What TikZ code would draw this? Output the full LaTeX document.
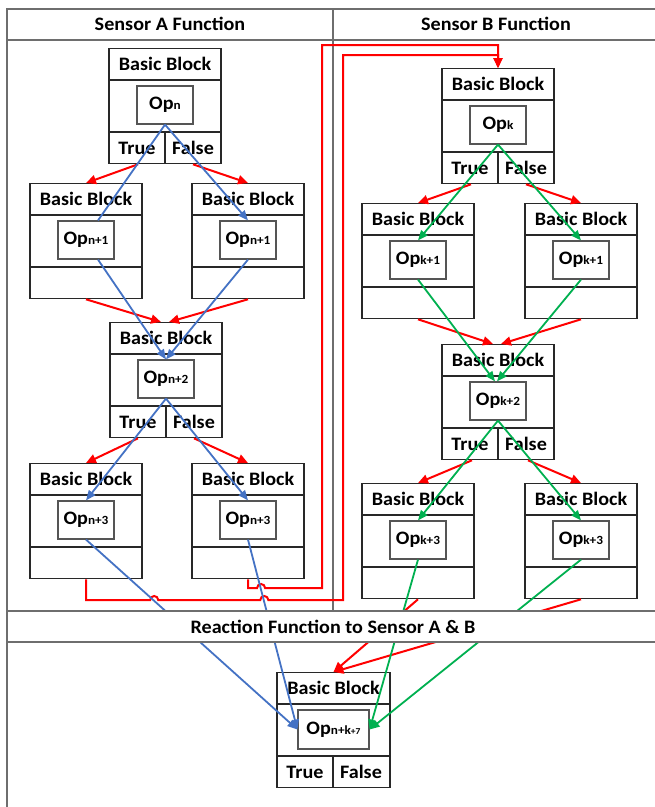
\documentclass[tikz,border=0pt]{standalone}
\usepackage{fontspec}
\setmainfont{Carlito}[FakeStretch=1.06]
\usetikzlibrary{arrows.meta}
\definecolor{redc}{RGB}{255,0,0}
\definecolor{bluec}{RGB}{68,114,196}
\definecolor{greenc}{RGB}{0,176,80}
\definecolor{framec}{RGB}{110,110,110}
\definecolor{boxc}{RGB}{40,40,40}
\definecolor{opc}{RGB}{85,85,85}
\newcommand\subtxt[1]{{\fontsize{12.5}{13}\selectfont #1}}
\newcommand\BlockCore[4]{%
  \node[blockbox] (#1) at (#2,#3) {};
  \node[txt] (#1t) at (#2,#3+16) {Basic Block};
  \draw[boxline] (#2-56,#3+32) -- (#2+56,#3+32);
  \node[opbox] (#1op) at (#2,#3+57) {Op\subtxt{#4}};
  \draw[boxline] (#2-56,#3+84) -- (#2+56,#3+84);
}
\newcommand\BlockTF[4]{%
  \BlockCore{#1}{#2}{#3}{#4}
  \draw[boxline] (#2,#3+84) -- (#2,#3+115);
  \node[txt] (#1true) at (#2-28,#3+100) {True};
  \node[txt] (#1false) at (#2+28,#3+100) {False};
}
\begin{document}
\begin{tikzpicture}[x=1pt,y=-1pt,
  txt/.style={inner sep=0pt, font=\fontsize{19}{20}\selectfont\bfseries},
  blockbox/.style={draw=boxc, line width=1.3pt, fill=white, minimum width=112pt, minimum height=115pt, anchor=north, inner sep=0pt},
  opbox/.style={draw=opc, line width=1.2pt, fill=white, minimum width=56pt, minimum height=38pt, inner sep=0pt, font=\fontsize{19}{20}\selectfont\bfseries},
  boxline/.style={draw=boxc, line width=1.3pt},
  frameline/.style={draw=framec, line width=1.6pt},
  redar/.style={draw=redc, line width=2pt, -{Triangle[length=10pt,width=9pt]}},
  bluear/.style={draw=bluec, line width=1.8pt, -{Triangle[length=10pt,width=8pt]}},
  blueln/.style={draw=bluec, line width=1.8pt},
  greenar/.style={draw=greenc, line width=1.8pt, -{Triangle[length=10pt,width=8pt]}}
]
\useasboundingbox (0,0) rectangle (655,807);
% frame
\draw[frameline] (7,807) -- (7,9) -- (655,9);
\draw[frameline] (7,40) -- (655,40);
\draw[frameline] (333,9) -- (333,611);
\node[txt] (hA) at (170,24) {Sensor A Function};
\node[txt] (hB) at (496,24) {Sensor B Function};
% Sensor A blocks
\BlockTF{A0}{165}{48}{n}
\BlockCore{A1L}{86}{183}{n+1}
\BlockCore{A1R}{248}{183}{n+1}
\BlockTF{A2}{166}{322}{n+2}
\BlockCore{A3L}{86}{463}{n+3}
\BlockCore{A3R}{248}{463}{n+3}
% Sensor B blocks
\BlockTF{B0}{498}{68}{k}
\BlockCore{B1L}{418}{203}{k+1}
\BlockCore{B1R}{581}{203}{k+1}
\BlockTF{B2}{498}{344}{k+2}
\BlockCore{B3L}{418}{483}{k+3}
\BlockCore{B3R}{581}{483}{k+3}
% Reaction block
\node[blockbox, minimum width=113pt] (C) at (333.5,672) {};
\node[txt] (Ct) at (333.5,688) {Basic Block};
\draw[boxline] (277,704) -- (390,704);
\node[opbox, minimum width=71pt, minimum height=39pt] (Cop) at (333.5,729.5) {Op\subtxt{n+k}{\fontsize{9}{10}\selectfont +7}};
\draw[boxline] (277,756) -- (390,756);
\draw[boxline] (333,756) -- (333,787);
\node[txt] (Ctrue) at (305,772) {True};
\node[txt] (Cfalse) at (361,772) {False};
% red control flow, sensor A
\draw[redar] ([xshift=-27pt]A0.south) -- (A1L.north);
\draw[redar] ([xshift=28pt]A0.south) -- (A1R.north);
\draw[redar] (A1L.south) -- ([xshift=-5pt]A2.north);
\draw[redar] (A1R.south) -- ([xshift=3pt]A2.north);
\draw[redar] ([xshift=-28pt]A2.south) -- (A3L.north);
\draw[redar] ([xshift=28pt]A2.south) -- (A3R.north);
\draw[redar] (A3L.south) |- (150.2,600) arc(180:360:4) -- (260.3,600) arc(180:360:4) -- (343,600) -- (343,55) -| (B0.north);
\draw[redar] (A3R.south) |- (257.1,588) arc(180:360:4) -- (322,588) -- (322,45) -| (B0.north);
% red control flow, sensor B
\draw[redar] ([xshift=-27pt]B0.south) -- (B1L.north);
\draw[redar] ([xshift=28pt]B0.south) -- (B1R.north);
\draw[redar] (B1L.south) -- ([xshift=-5pt]B2.north);
\draw[redar] (B1R.south) -- ([xshift=3pt]B2.north);
\draw[redar] ([xshift=-26pt]B2.south) -- (B3L.north);
\draw[redar] ([xshift=30pt]B2.south) -- (B3R.north);
\draw[redar] (B3L.south) -- (C.north);
\draw[redar] (B3R.south) -- (C.north);
% blue data flow, sensor A
\draw[blueln] (A0op.south) -- ([xshift=12pt]A1Lop.north);
\draw[bluear] (A0op.south) -- (A1Rop.north);
\draw[bluear] ([xshift=12pt]A1Lop.south) -- (A2op.north);
\draw[bluear] (A1Rop.south) -- (A2op.north);
\draw[bluear] (A2op.south) -- (A3Lop.north);
\draw[bluear] (A2op.south) -- (A3Rop.north);
\draw[bluear] (A3Lop.south) -- (Cop.west);
\draw[bluear] (A3Rop.south) -- (Cop.west);
% green data flow, sensor B
\draw[greenar] (B0op.south) -- (B1Lop.north);
\draw[greenar] (B0op.south) -- (B1Rop.north);
\draw[greenar] (B1Lop.south) -- ([xshift=-3pt]B2op.north);
\draw[greenar] (B1Rop.south) -- ([xshift=-1pt]B2op.north);
\draw[greenar] (B2op.south) -- (B3Lop.north);
\draw[greenar] (B2op.south) -- (B3Rop.north);
\draw[greenar] (B3Lop.south) -- (Cop.east);
\draw[greenar] (B3Rop.south) -- (Cop.east);
% reaction band (opaque, over the connectors)
\fill[white] (8,611) rectangle (655,642);
\draw[frameline] (7,611) -- (655,611);
\draw[frameline] (7,642) -- (655,642);
\node[txt] (band) at (333,627) {Reaction Function to Sensor A \& B};
\end{tikzpicture}
\end{document}
